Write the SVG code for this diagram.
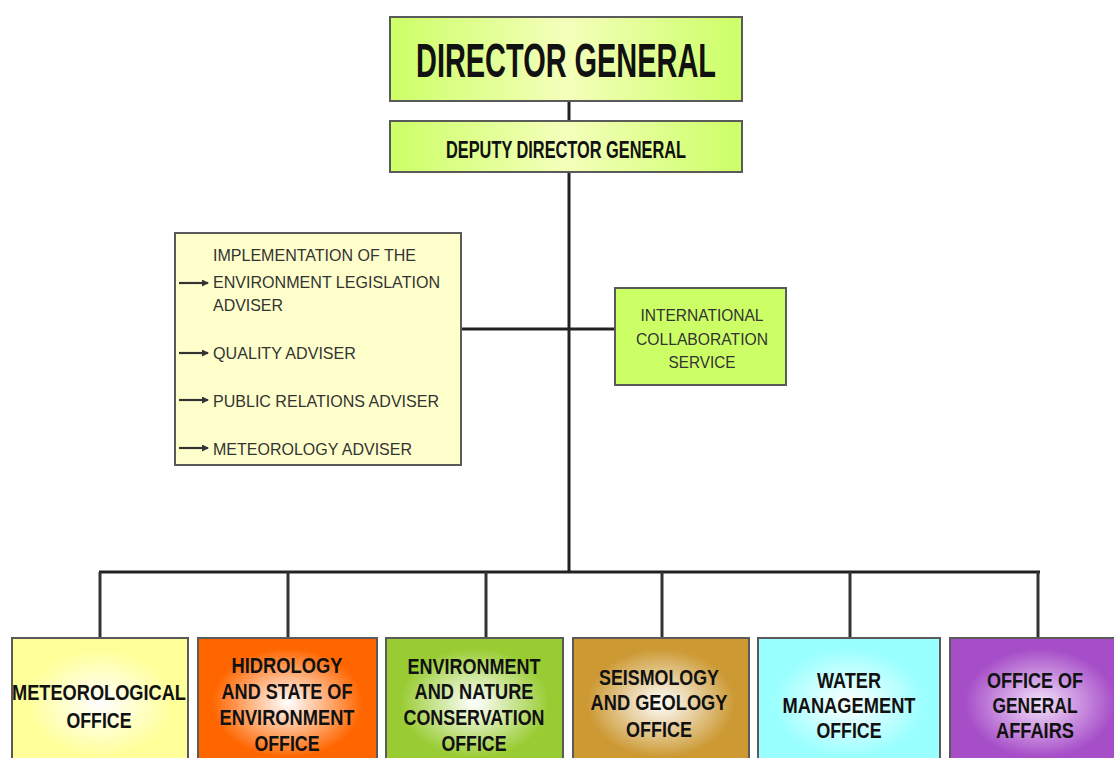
<svg xmlns="http://www.w3.org/2000/svg" width="1114" height="758" viewBox="0 0 1114 758">
<style>
.box{stroke:#5a5a5a;stroke-width:2}
.t{font-family:"Liberation Sans",Arial,sans-serif;font-weight:bold;fill:#111;text-anchor:middle}
.a{font-family:"Liberation Sans",Arial,sans-serif;fill:#333;font-size:17px}
.c{font-family:"Liberation Sans",Arial,sans-serif;fill:#333;font-size:17px;text-anchor:middle}
.ln{stroke:#222;stroke-width:3;fill:none}
.drop{stroke:#333;stroke-width:3;fill:none}
.ar{stroke:#333;stroke-width:2.2;fill:none}
</style>
<defs>
<linearGradient id="gTop" x1="0" y1="0" x2="1" y2="0">
<stop offset="0" stop-color="#ccff66"/><stop offset="0.5" stop-color="#f4ffbb"/><stop offset="1" stop-color="#ccff66"/>
</linearGradient>
<radialGradient id="g1" cx="0.5" cy="0.5" r="0.6"><stop offset="0" stop-color="#ffffff"/><stop offset="0.7" stop-color="#ffff99"/></radialGradient>
<radialGradient id="g2" cx="0.5" cy="0.5" r="0.6"><stop offset="0" stop-color="#ffffff"/><stop offset="0.7" stop-color="#ff6600"/></radialGradient>
<radialGradient id="g3" cx="0.5" cy="0.5" r="0.6"><stop offset="0" stop-color="#ffffff"/><stop offset="0.7" stop-color="#99cc33"/></radialGradient>
<radialGradient id="g4" cx="0.5" cy="0.5" r="0.6"><stop offset="0" stop-color="#ffffff"/><stop offset="0.7" stop-color="#cc9933"/></radialGradient>
<radialGradient id="g5" cx="0.5" cy="0.5" r="0.6"><stop offset="0" stop-color="#ffffff"/><stop offset="0.7" stop-color="#99ffff"/></radialGradient>
<radialGradient id="g6" cx="0.5" cy="0.5" r="0.6"><stop offset="0" stop-color="#f4e0fa"/><stop offset="0.7" stop-color="#a64dc8"/></radialGradient>
<marker id="ah" markerWidth="7" markerHeight="7" refX="6" refY="3.5" orient="auto" markerUnits="userSpaceOnUse"><path d="M0,0 L7,3.5 L0,7 z" fill="#333"/></marker>
</defs>

<g id="connectors">
<line class="ln" x1="569" y1="101" x2="569" y2="121"/>
<line class="ln" x1="569" y1="172" x2="569" y2="573"/>
<line class="ln" x1="461" y1="329" x2="615" y2="329"/>
<line class="ln" x1="99" y1="572" x2="1040" y2="572"/>
<line class="drop" x1="100" y1="572" x2="100" y2="638"/>
<line class="drop" x1="288" y1="572" x2="288" y2="638"/>
<line class="drop" x1="486" y1="572" x2="486" y2="638"/>
<line class="drop" x1="662" y1="572" x2="662" y2="638"/>
<line class="drop" x1="850" y1="572" x2="850" y2="638"/>
<line class="drop" x1="1038" y1="572" x2="1038" y2="638"/>
</g>

<g id="director-general">
<rect class="box" x="390" y="17" width="352" height="84" fill="url(#gTop)"/>
<text class="t" x="566" y="77" font-size="48" textLength="300" lengthAdjust="spacingAndGlyphs">DIRECTOR GENERAL</text>
</g>

<g id="deputy-director-general">
<rect class="box" x="390" y="121" width="352" height="51" fill="url(#gTop)"/>
<text class="t" x="566" y="158" font-size="23" textLength="240" lengthAdjust="spacingAndGlyphs">DEPUTY DIRECTOR GENERAL</text>
</g>

<g id="advisers">
<rect class="box" x="175" y="233" width="286" height="232" fill="#ffffcc"/>
<line class="ar" x1="179" y1="283" x2="208" y2="283" marker-end="url(#ah)"/>
<line class="ar" x1="179" y1="353" x2="208" y2="353" marker-end="url(#ah)"/>
<line class="ar" x1="179" y1="400" x2="208" y2="400" marker-end="url(#ah)"/>
<line class="ar" x1="179" y1="448" x2="208" y2="448" marker-end="url(#ah)"/>
<text class="a" x="213" y="261" textLength="203" lengthAdjust="spacingAndGlyphs">IMPLEMENTATION OF THE</text>
<text class="a" x="213" y="288" textLength="227" lengthAdjust="spacingAndGlyphs">ENVIRONMENT LEGISLATION</text>
<text class="a" x="213" y="311" textLength="70" lengthAdjust="spacingAndGlyphs">ADVISER</text>
<text class="a" x="213" y="359" textLength="143" lengthAdjust="spacingAndGlyphs">QUALITY ADVISER</text>
<text class="a" x="213" y="407" textLength="226" lengthAdjust="spacingAndGlyphs">PUBLIC RELATIONS ADVISER</text>
<text class="a" x="213" y="455" textLength="199" lengthAdjust="spacingAndGlyphs">METEOROLOGY ADVISER</text>
</g>

<g id="international-collaboration-service">
<rect class="box" x="615" y="288" width="171" height="97" fill="#ccff66"/>
<text class="c" x="702" y="321" textLength="123" lengthAdjust="spacingAndGlyphs">INTERNATIONAL</text>
<text class="c" x="702" y="345" textLength="132" lengthAdjust="spacingAndGlyphs">COLLABORATION</text>
<text class="c" x="702" y="368" textLength="67" lengthAdjust="spacingAndGlyphs">SERVICE</text>
</g>

<g id="meteorological-office">
<rect class="box" x="12" y="638" width="176" height="130" fill="url(#g1)"/>
<text class="t" x="99" y="700" font-size="22" textLength="174" lengthAdjust="spacingAndGlyphs">METEOROLOGICAL</text>
<text class="t" x="99" y="728" font-size="22" textLength="65" lengthAdjust="spacingAndGlyphs">OFFICE</text>
</g>

<g id="hidrology-office">
<rect class="box" x="198" y="638" width="179" height="130" fill="url(#g2)"/>
<text class="t" x="287" y="673" font-size="22" textLength="111" lengthAdjust="spacingAndGlyphs">HIDROLOGY</text>
<text class="t" x="287" y="699" font-size="22" textLength="131" lengthAdjust="spacingAndGlyphs">AND STATE OF</text>
<text class="t" x="287" y="725" font-size="22" textLength="135" lengthAdjust="spacingAndGlyphs">ENVIRONMENT</text>
<text class="t" x="287" y="751" font-size="22" textLength="65" lengthAdjust="spacingAndGlyphs">OFFICE</text>
</g>

<g id="environment-office">
<rect class="box" x="386" y="638" width="177" height="130" fill="url(#g3)"/>
<text class="t" x="474" y="674" font-size="22" textLength="133" lengthAdjust="spacingAndGlyphs">ENVIRONMENT</text>
<text class="t" x="474" y="699" font-size="22" textLength="119" lengthAdjust="spacingAndGlyphs">AND NATURE</text>
<text class="t" x="474" y="725" font-size="22" textLength="141" lengthAdjust="spacingAndGlyphs">CONSERVATION</text>
<text class="t" x="474" y="751" font-size="22" textLength="65" lengthAdjust="spacingAndGlyphs">OFFICE</text>
</g>

<g id="seismology-office">
<rect class="box" x="573" y="638" width="176" height="130" fill="url(#g4)"/>
<text class="t" x="659" y="685" font-size="22" textLength="120" lengthAdjust="spacingAndGlyphs">SEISMOLOGY</text>
<text class="t" x="659" y="710" font-size="22" textLength="137" lengthAdjust="spacingAndGlyphs">AND GEOLOGY</text>
<text class="t" x="659" y="737" font-size="22" textLength="66" lengthAdjust="spacingAndGlyphs">OFFICE</text>
</g>

<g id="water-management-office">
<rect class="box" x="758" y="638" width="182" height="130" fill="url(#g5)"/>
<text class="t" x="849" y="688" font-size="22" textLength="64" lengthAdjust="spacingAndGlyphs">WATER</text>
<text class="t" x="849" y="713" font-size="22" textLength="133" lengthAdjust="spacingAndGlyphs">MANAGEMENT</text>
<text class="t" x="849" y="738" font-size="22" textLength="65" lengthAdjust="spacingAndGlyphs">OFFICE</text>
</g>

<g id="office-of-general-affairs">
<rect class="box" x="950" y="638" width="180" height="130" fill="url(#g6)"/>
<text class="t" x="1035" y="688" font-size="22" textLength="96" lengthAdjust="spacingAndGlyphs">OFFICE OF</text>
<text class="t" x="1035" y="713" font-size="22" textLength="85" lengthAdjust="spacingAndGlyphs">GENERAL</text>
<text class="t" x="1035" y="738" font-size="22" textLength="78" lengthAdjust="spacingAndGlyphs">AFFAIRS</text>
</g>
</svg>
